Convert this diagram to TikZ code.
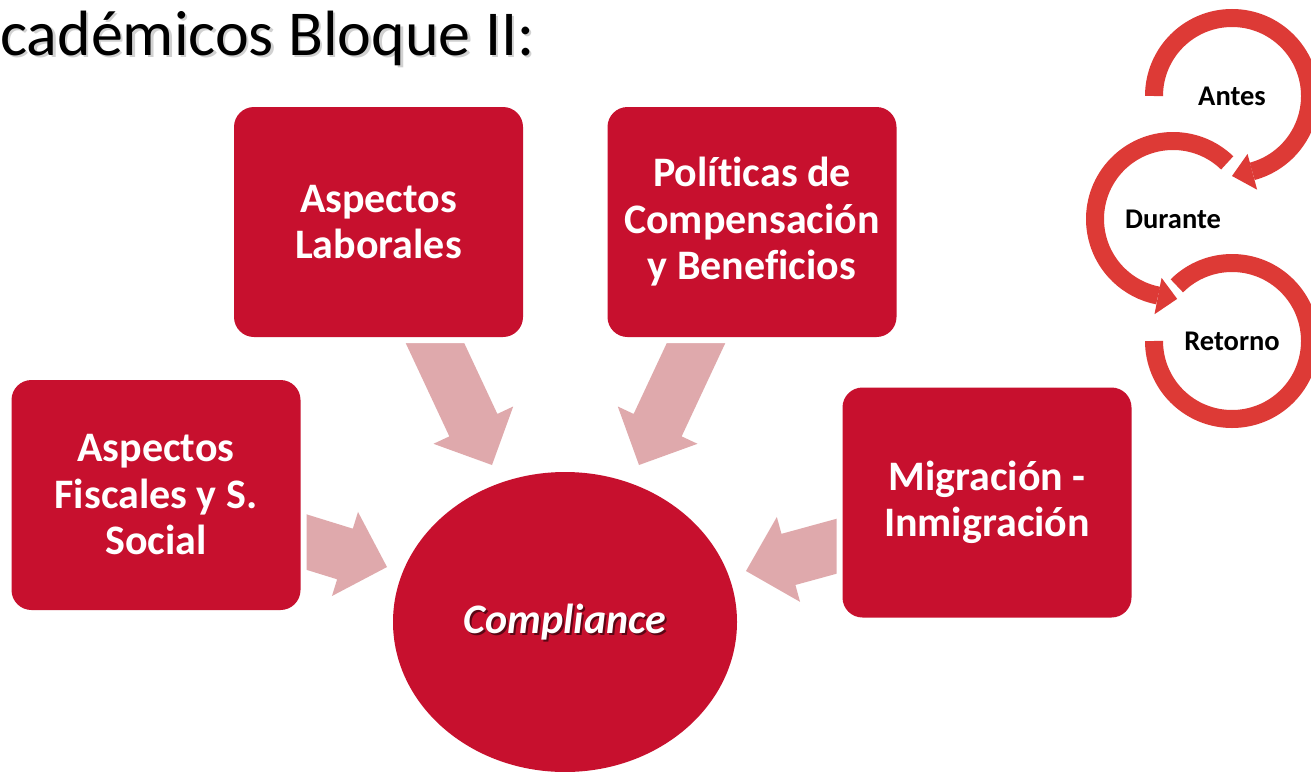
\documentclass[tikz,border=0pt]{standalone}
\usepackage{fontspec}
\setmainfont{Carlito}[Ligatures=NoCommon]
\usetikzlibrary{calc,shapes.geometric}
\definecolor{boxred}{RGB}{199,16,46}
\definecolor{arrowpink}{RGB}{223,169,172}
\definecolor{ringred}{RGB}{221,58,54}
\newcommand{\blockarrow}[2]{%
  \coordinate (#1-hb) at ($(#2)!44pt!(#1)$);
  \fill[arrowpink]
    ($(#1)!26.5pt!90:(#2)$) --
    ($(#1-hb)!26.5pt!90:(#2)$) --
    ($(#1-hb)!44pt!90:(#2)$) --
    (#2) --
    ($(#1-hb)!44pt!-90:(#2)$) --
    ($(#1-hb)!26.5pt!-90:(#2)$) --
    ($(#1)!26.5pt!-90:(#2)$) -- cycle;}
\begin{document}
\begin{tikzpicture}[x=1pt,y=-1pt,
  box/.style={rectangle, rounded corners=20pt, fill=boxred, text=white,
    minimum width=289pt, minimum height=230pt, inner sep=0pt, align=center,
    font=\fontsize{42}{46.5}\selectfont\bfseries,
    preaction={draw=white, line width=12pt}},
  ringarc/.style={draw=ringred, line width=18pt},
  ringtext/.style={font=\fontsize{28.5}{30}\selectfont\bfseries, text=black, inner sep=0pt},
  headfill/.style={fill=ringred}]
\useasboundingbox (0,0) rectangle (1311,771);
\clip (0,0) rectangle (1311,771);
\fill[white] (0,0) rectangle (1311,771);

% title
\node[anchor=base west, inner sep=0pt, text=black!18, font=\fontsize{64}{70}\selectfont] (titleshadow) at (2.5,57.5) {cadémicos Bloque II:};
\node[anchor=base west, inner sep=0pt, text=black, font=\fontsize{64}{70}\selectfont] (title) at (0,55) {cadémicos Bloque II:};

% arrow end points
\coordinate (s1) at (418.25,307.35); \coordinate (t1) at (492,465);
\coordinate (s2) at (712.75,307.35); \coordinate (t2) at (639,465);
\coordinate (s3) at (249.5,524.4);  \coordinate (t3) at (387,567);
\coordinate (s4) at (885,533);      \coordinate (t4) at (746,571);
\blockarrow{s1}{t1}
\blockarrow{s2}{t2}
\blockarrow{s3}{t3}
\blockarrow{s4}{t4}

% boxes
\node[box] (lab) at (378.5,222) {Aspectos\\Laborales};
\node[box] (pol) at (752,222) {Políticas de\\Compensación\\y Beneficios};
\node[box] (fis) at (156,495) {Aspectos\\Fiscales y S.\\Social};
\node[box] (mig) at (987,502.5) {Migración -\\Inmigración};

% compliance
\node[ellipse, fill=boxred, minimum width=344pt, minimum height=300pt, inner sep=0pt] (comp) at (565,622) {};
\node[text=black!55!boxred, font=\fontsize{42}{46}\selectfont\bfseries\itshape, inner sep=0pt] (compsh) at ($(comp.center)+(2,2)$) {Compliance};
\node[text=white, font=\fontsize{42}{46}\selectfont\bfseries\itshape, inner sep=0pt] (comptext) at (comp.center) {Compliance};

% cycle
\node[ringtext] (antes) at (1232,96) {Antes};
\node[ringtext] (durante) at (1173,219) {Durante};
\node[ringtext] (retorno) at (1232,341) {Retorno};

\draw[ringarc] ($(antes.center)+(-180:78)$) arc[start angle=-180, end angle=75, radius=78];
\fill[headfill] ($(antes.center)+(75:60)$) -- ($(antes.center)+(75:97)$) -- ($(antes.center)+(90:80)$) -- cycle;

\draw[ringarc] ($(durante.center)+(-46:78)$) arc[start angle=-46, end angle=-259, radius=78];
\fill[headfill] ($(durante.center)+(101:60)$) -- ($(durante.center)+(101:97)$) -- ($(durante.center)+(87:80)$) -- cycle;

\draw[ringarc] ($(retorno.center)+(-135:78)$) arc[start angle=-135, end angle=180, radius=78];
\end{tikzpicture}
\end{document}
